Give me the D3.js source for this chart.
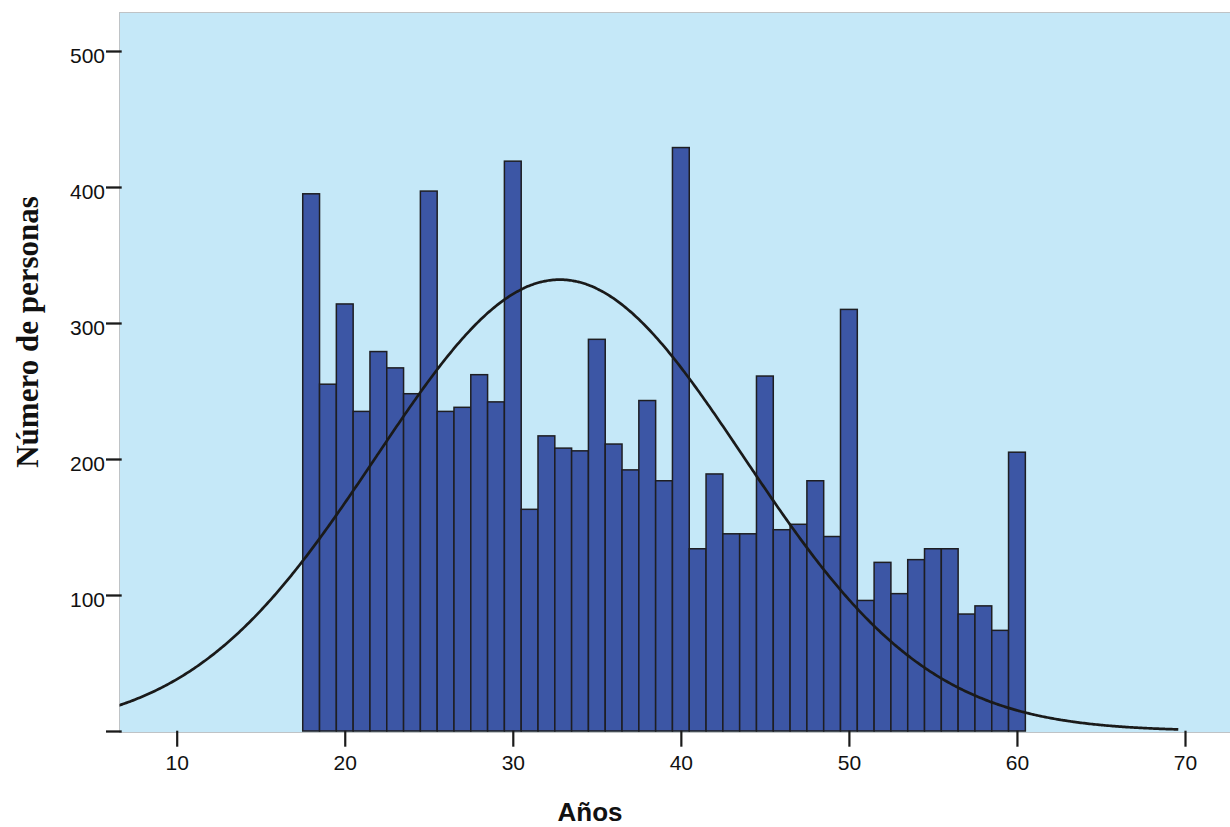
<!DOCTYPE html>
<html>
<head>
<meta charset="utf-8">
<script src="https://cdn.jsdelivr.net/npm/d3@7"></script>
<style>
  html, body { margin: 0; padding: 0; background: #ffffff; overflow: hidden; }
  svg { display: block; }
</style>
</head>
<body>
<svg id="chart" width="1230" height="827"></svg>
<script>
// Age (years) of each one-year bin and the number of people in it
const ages = [18, 19, 20, 21, 22, 23, 24, 25, 26, 27, 28, 29, 30, 31, 32, 33, 34, 35, 36, 37, 38, 39,
              40, 41, 42, 43, 44, 45, 46, 47, 48, 49, 50, 51, 52, 53, 54, 55, 56, 57, 58, 59, 60];
const counts = [395, 255, 314, 235, 279, 267, 248, 397, 235, 238, 262, 242, 419, 163, 217, 208, 206, 288, 211, 192, 243, 184,
                429, 134, 189, 145, 145, 261, 148, 152, 184, 143, 310, 96, 124, 101, 126, 134, 134, 86, 92, 74, 205];

// Axis ticks
const xTicks = [10, 20, 30, 40, 50, 60, 70];
const xTickLabels = ["10", "20", "30", "40", "50", "60", "70"];
const yTicks = [0, 100, 200, 300, 400, 500];
const yTickLabels = ["", "100", "200", "300", "400", "500"];

// Overlaid normal curve
const normalMean = 32.8;
const normalSD = 10.95;
const curveFrom = 6.5;
const curveTo = 69.6;
const binWidth = 1;

const xTitle = "Años";
const yTitle = "Número de personas";

const svg = d3.select("#chart");

const x = d3.scaleLinear().domain([10, 70]).range([176.7, 1185]);
const y = d3.scaleLinear().domain([0, 500]).range([731, 51]);

const frame = { left: 119.5, top: 12.5, right: 1232, bottom: 732.5 };

// plot background
svg.append("rect")
  .attr("x", frame.left).attr("y", frame.top)
  .attr("width", frame.right - frame.left)
  .attr("height", frame.bottom - frame.top)
  .attr("fill", "#C5E8F8")
  .attr("stroke", "#BFC3C6")
  .attr("stroke-width", 1);

svg.append("clipPath").attr("id", "plot-clip")
  .append("rect")
  .attr("x", frame.left).attr("y", frame.top)
  .attr("width", frame.right - frame.left)
  .attr("height", frame.bottom - frame.top);

// histogram bars
const bins = ages.map((a, i) => ({ age: a, count: counts[i] }));
svg.append("g")
  .selectAll("rect")
  .data(bins)
  .join("rect")
  .attr("x", d => x(d.age - binWidth / 2))
  .attr("width", d => x(d.age + binWidth / 2) - x(d.age - binWidth / 2))
  .attr("y", d => y(d.count))
  .attr("height", d => y(0) - y(d.count))
  .attr("fill", "#3C56A5")
  .attr("stroke", "#1E1E22")
  .attr("stroke-width", 1.5);

// normal density scaled to the number of people
const total = d3.sum(counts);
const density = v => total * binWidth / (normalSD * Math.sqrt(2 * Math.PI)) *
  Math.exp(-((v - normalMean) ** 2) / (2 * normalSD * normalSD));
const curvePts = d3.range(curveFrom, curveTo + 0.0001, 0.1).map(v => [v, density(v)]);
svg.append("path")
  .datum(curvePts)
  .attr("clip-path", "url(#plot-clip)")
  .attr("fill", "none")
  .attr("stroke", "#1A1A1A")
  .attr("stroke-width", 2.7)
  .attr("d", d3.line().x(d => x(d[0])).y(d => y(d[1])).curve(d3.curveBasis));

const tickFont = "'Liberation Sans', Arial, sans-serif";

// y axis
const yAxis = svg.append("g")
  .attr("transform", "translate(121.7,0)")
  .call(d3.axisLeft(y).tickValues(yTicks).tickSize(15.7).tickPadding(1)
    .tickFormat((d, i) => yTickLabels[i]));
yAxis.select(".domain").remove();
yAxis.selectAll(".tick line").attr("stroke", "#1A1A1A").attr("stroke-width", 2.3);
yAxis.selectAll(".tick text")
  .attr("dy", "0.55em")
  .attr("fill", "#111")
  .style("font-family", tickFont)
  .style("font-size", "21px");

// x axis
const xAxis = svg.append("g")
  .attr("transform", "translate(0,730.7)")
  .call(d3.axisBottom(x).tickValues(xTicks).tickSize(16).tickPadding(8.4)
    .tickFormat((d, i) => xTickLabels[i]));
xAxis.select(".domain").remove();
xAxis.selectAll(".tick line").attr("stroke", "#1A1A1A").attr("stroke-width", 2.2);
xAxis.selectAll(".tick text")
  .attr("fill", "#111")
  .style("font-family", tickFont)
  .style("font-size", "21px");

// axis titles
svg.append("text")
  .attr("transform", "translate(38,332) rotate(-90)")
  .attr("text-anchor", "middle")
  .attr("fill", "#111")
  .style("font-family", "'Liberation Serif', 'Times New Roman', serif")
  .style("font-weight", "bold")
  .style("font-size", "31px")
  .text(yTitle);

svg.append("text")
  .attr("x", 590)
  .attr("y", 821)
  .attr("text-anchor", "middle")
  .attr("fill", "#111")
  .style("font-family", tickFont)
  .style("font-weight", "bold")
  .style("font-size", "26px")
  .text(xTitle);
</script>
</body>
</html>
